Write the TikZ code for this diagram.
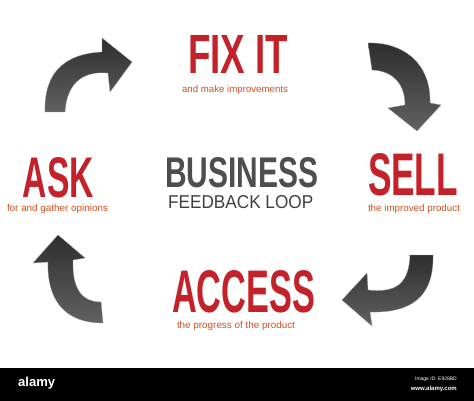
\documentclass[tikz,border=0pt]{standalone}
\usepackage{fontspec}
\setmainfont{Liberation Sans}
\usetikzlibrary{positioning}
\definecolor{titlered}{HTML}{C4222B}
\definecolor{subred}{HTML}{D2501E}
\definecolor{bizgray}{HTML}{4E4E4E}
\definecolor{loopgray}{HTML}{3F3F3F}
\tikzset{
  title/.style={inner sep=0pt, outer sep=0pt, anchor=north west, text=titlered, font=\bfseries},
  subtitle/.style={inner sep=0pt, outer sep=0pt, anchor=base west, text=subred},
  arrowshape/.style={top color=black!82, bottom color=black!62, draw=black!40, line width=0.3pt},
  bar/.style={fill=black, draw=none},
  wm/.style={inner sep=0pt, text=white}
}
\begin{document}
\begin{tikzpicture}[x=1pt,y=-1pt]
\useasboundingbox (0,0) rectangle (474,401);
\fill[white] (0,0) rectangle (474,401);

% titles
\node[title] (fix) at (188,35) {\resizebox{100pt}{38pt}{FIX IT}};
\node[subtitle] (fixsub) at (182,93) {\resizebox{106pt}{!}{and make improvements}};

\node[title] (ask) at (23,157) {\resizebox{71pt}{40pt}{ASK}};
\node[subtitle] (asksub) at (7,211) {\resizebox{101pt}{!}{for and gather opinions}};

\node[title] (sell) at (368,153) {\resizebox{90pt}{42pt}{SELL}};
\node[subtitle] (sellsub) at (368,211) {\resizebox{92pt}{!}{the improved product}};

\node[title] (access) at (172,270) {\resizebox{143pt}{42pt}{ACCESS}};
\node[subtitle] (accsub) at (177,328) {\resizebox{118pt}{!}{the progress of the product}};

\node[title, text=bizgray] (biz) at (165,157) {\resizebox{153pt}{30pt}{BUSINESS}};
\node[inner sep=0pt, anchor=north west, text=loopgray] (loop) at (168,195) {\resizebox{145pt}{13pt}{FEEDBACK LOOP}};

% arrows
% top-left
\path[arrowshape] (45,112) .. controls (44,75) and (62,54) .. (102,52)
  -- (102,38) -- (132,62) -- (110,92) -- (108,73)
  .. controls (86,71) and (67,80) .. (65,112) -- cycle;
% top-right
\path[arrowshape] (368,43) .. controls (402,42) and (431,62) .. (430,103)
  -- (441,105) -- (417,131) -- (388,108) -- (405,105)
  .. controls (405,86) and (395,71) .. (372,70) -- cycle;
% bottom-right
\path[arrowshape] (408,255) -- (433,255)
  .. controls (434,298) and (410,313) .. (370,312)
  -- (372,326) -- (342,300) -- (367,273) -- (368,290)
  .. controls (396,293) and (409,284) .. (410,255) -- cycle;
% bottom-left
\path[arrowshape] (33,263) -- (58,235) -- (85,258) -- (73,260)
  .. controls (72,286) and (80,302) .. (101,302)
  -- (103,323) .. controls (62,323) and (47,297) .. (48,262) -- cycle;

% watermark bar
\fill[bar] (0,368) rectangle (474,401);
\node[wm, anchor=west] (alamy) at (18,383) {\resizebox{37pt}{!}{\bfseries alamy}};
\node[wm, anchor=east, font=\fontsize{5}{6}\selectfont] (imgid) at (457,379) {Image ID: E928BD};
\node[wm, anchor=east, font=\bfseries\fontsize{6}{7}\selectfont] (www) at (457,389) {www.alamy.com};
\end{tikzpicture}
\end{document}
